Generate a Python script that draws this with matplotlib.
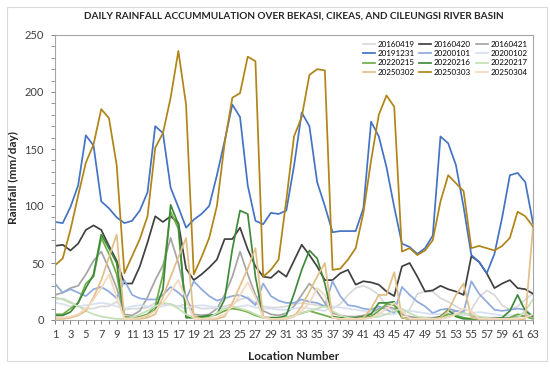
import matplotlib
matplotlib.use("Agg")
import matplotlib.pyplot as plt
from matplotlib.patches import Rectangle

plt.rcParams['font.family'] = ['Lato', 'DejaVu Sans']

locations = list(range(1, 64))

s20160419 = [18, 19, 16, 12, 10, 10, 12, 12, 16, 9,
             10, 10, 11, 15, 14, 13, 12, 14, 12, 10,
             10, 11, 12, 14, 18, 20, 15, 12, 11, 11,
             12, 14, 15, 14, 13, 12, 10, 14, 22, 28,
             30, 27, 22, 12, 8, 6, 9, 23, 25, 25,
             19, 16, 12, 8, 9, 20, 26, 22, 13, 9,
             12, 18, 23]
s20160420 = [65, 66, 61, 67, 79, 83, 79, 65, 52, 32,
             32, 47, 68, 91, 86, 91, 85, 45, 35, 40,
             46, 53, 71, 71, 81, 62, 47, 38, 37, 43,
             38, 52, 66, 57, 47, 35, 35, 41, 44, 31,
             34, 33, 31, 25, 21, 47, 50, 38, 25, 26,
             30, 27, 25, 22, 56, 51, 41, 28, 32, 35,
             28, 27, 23]
s20160421 = [22, 24, 28, 30, 40, 52, 60, 45, 28, 5,
             4, 8, 20, 35, 48, 72, 50, 20, 5, 4,
             5, 10, 22, 38, 60, 40, 22, 8, 5, 4,
             6, 12, 22, 32, 25, 15, 6, 4, 3, 3,
             4, 6, 10, 12, 10, 5, 3, 2, 2, 2,
             3, 5, 8, 6, 4, 2, 2, 2, 2, 2,
             3, 4, 3]
s20191231 = [86, 85, 99, 118, 162, 153, 104, 98, 90, 85,
             87, 96, 112, 170, 164, 116, 99, 81, 88, 93,
             100, 127, 157, 189, 178, 118, 87, 84, 94, 93,
             96, 135, 182, 170, 121, 100, 77, 78, 78, 78,
             98, 174, 161, 134, 99, 67, 64, 58, 63, 74,
             161, 155, 136, 99, 57, 51, 41, 58, 90, 127,
             129, 121, 85]
s20200101 = [32, 24, 27, 24, 21, 27, 29, 25, 19, 35,
             22, 19, 18, 18, 22, 29, 24, 18, 34, 27,
             21, 17, 19, 21, 22, 19, 13, 32, 21, 17,
             15, 15, 18, 16, 15, 12, 34, 21, 13, 12,
             10, 9, 12, 9, 6, 29, 22, 16, 12, 6,
             9, 10, 8, 7, 34, 23, 16, 9, 8, 9,
             10, 9, 3]
s20200102 = [15, 14, 12, 12, 13, 14, 15, 14, 12, 10,
             12, 13, 12, 11, 12, 14, 12, 10, 12, 13,
             12, 11, 10, 11, 12, 13, 11, 10, 10, 9,
             9, 10, 11, 10, 9, 8, 12, 11, 10, 9,
             8, 7, 6, 5, 5, 8, 8, 7, 6, 5,
             5, 6, 5, 4, 6, 7, 6, 5, 4, 4,
             5, 6, 4]
s20220215 = [5, 5, 10, 15, 32, 38, 72, 58, 40, 3,
             2, 3, 5, 12, 40, 95, 80, 3, 2, 2,
             3, 5, 8, 10, 9, 7, 4, 2, 2, 2,
             2, 4, 6, 8, 6, 4, 2, 1, 1, 2,
             2, 3, 8, 14, 13, 2, 1, 1, 1, 1,
             2, 5, 4, 2, 1, 1, 1, 1, 1, 2,
             5, 3, 1]
s20220216 = [4, 4, 7, 15, 28, 40, 75, 63, 50, 2,
             2, 2, 4, 9, 27, 101, 84, 2, 2, 3,
             4, 5, 18, 62, 96, 93, 38, 2, 2, 2,
             4, 23, 44, 61, 54, 32, 3, 2, 2, 2,
             3, 5, 15, 15, 16, 2, 1, 1, 1, 1,
             3, 9, 3, 1, 1, 1, 1, 1, 2, 8,
             22, 8, 3]
s20220217 = [20, 18, 15, 12, 8, 5, 3, 2, 1, 1,
             2, 5, 8, 12, 15, 14, 10, 5, 2, 1,
             2, 6, 10, 12, 10, 8, 5, 2, 1, 1,
             2, 4, 6, 8, 10, 12, 8, 4, 2, 1,
             1, 2, 3, 5, 8, 10, 6, 3, 2, 1,
             1, 3, 5, 6, 5, 3, 2, 1, 1, 1,
             2, 8, 18]
s20250302 = [1, 1, 2, 4, 8, 20, 35, 55, 75, 2,
             1, 1, 2, 5, 20, 38, 55, 72, 3, 1,
             1, 1, 3, 15, 30, 45, 63, 3, 1, 1,
             1, 3, 12, 25, 38, 50, 2, 1, 1, 1,
             2, 10, 22, 22, 42, 2, 1, 1, 1, 1,
             2, 8, 22, 32, 2, 1, 1, 0, 0, 0,
             0, 1, 82]
s20250303 = [48, 54, 79, 109, 138, 154, 185, 177, 136, 41,
             56, 71, 91, 151, 164, 195, 236, 189, 40, 55,
             72, 100, 155, 195, 199, 231, 227, 38, 44, 53,
             105, 161, 178, 215, 220, 219, 44, 45, 53, 63,
             94, 140, 180, 197, 187, 60, 63, 57, 61, 70,
             104, 127, 120, 113, 63, 65, 63, 61, 65, 72,
             95, 91, 82]
s20250304 = [2, 2, 3, 5, 10, 18, 28, 40, 20, 1,
             1, 2, 4, 8, 15, 25, 35, 18, 1, 1,
             1, 2, 5, 12, 22, 33, 20, 2, 1, 1,
             1, 3, 8, 15, 28, 22, 2, 1, 1, 1,
             1, 2, 5, 10, 15, 8, 1, 1, 1, 1,
             1, 2, 5, 10, 8, 1, 1, 1, 1, 1,
             1, 2, 5]

series = [
    ('20160419', s20160419, '#d9d9d9'),
    ('20160420', s20160420, '#404040'),
    ('20160421', s20160421, '#a5a5a5'),
    ('20191231', s20191231, '#4472c4'),
    ('20200101', s20200101, '#8faadc'),
    ('20200102', s20200102, '#d6e0f2'),
    ('20220215', s20220215, '#70ad47'),
    ('20220216', s20220216, '#3f8a3a'),
    ('20220217', s20220217, '#c5e0b4'),
    ('20250302', s20250302, '#e2bf86'),
    ('20250303', s20250303, '#b08416'),
    ('20250304', s20250304, '#f3d9bd'),
]

fig = plt.figure(figsize=(5.5, 3.69), dpi=100)
fig.patches.append(Rectangle((7 / 550, 1 - 361 / 369), 540 / 550, 354 / 369,
                             transform=fig.transFigure, fill=False,
                             edgecolor='#d9d9d9', lw=0.8))
ax = fig.add_axes([55 / 550, 1 - 320 / 369, 478 / 550, 285 / 369])

handles = []
for name, vals, color in series:
    h, = ax.plot(locations, vals, color=color, lw=1.25, label=name)
    handles.append(h)

ax.set_xlim(1, 63)
ax.set_ylim(0, 250)
ax.set_xticks(range(1, 64))
ax.set_xticklabels([str(i) if i % 2 == 1 else '' for i in range(1, 64)])
ax.set_yticks(range(0, 251, 50))
ax.set_yticks(range(0, 251, 10), minor=True)
ax.tick_params(axis='both', labelsize=8, colors='#404040', length=3, width=0.7)
ax.tick_params(axis='y', which='minor', length=3, width=0.6, colors='#808080')
ax.tick_params(axis='x', colors='#808080', labelcolor='#404040')
ax.tick_params(axis='y', which='major', colors='#808080', labelcolor='#404040', pad=5)
for sp in ax.spines.values():
    sp.set_color('#a6a6a6')
    sp.set_linewidth(0.8)

ax.set_title('DAILY RAINFALL ACCUMMULATION OVER BEKASI, CIKEAS, AND CILEUNGSI RIVER BASIN',
             fontsize=7.2, fontweight='bold', color='#262626', pad=12)
ax.set_xlabel('Location Number', fontsize=8.5, fontweight='bold', color='#262626', labelpad=8)
ax.set_ylabel('Rainfall (mm/day)', fontsize=8.5, fontweight='bold', color='#262626', labelpad=4)

order = [0, 3, 6, 9, 1, 4, 7, 10, 2, 5, 8, 11]
ax.legend([handles[i] for i in order], [series[i][0] for i in order],
          ncol=3, loc='upper right', fontsize=5.8, frameon=False,
          handlelength=1.5, handletextpad=0.3, columnspacing=0.6,
          labelspacing=0.3, borderaxespad=0.3)

fig.savefig('out.png', dpi=100)
